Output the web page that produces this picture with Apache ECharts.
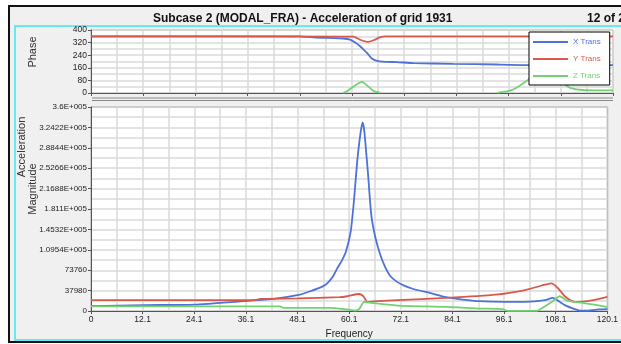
<!DOCTYPE html>
<html>
<head>
<meta charset="utf-8">
<script src="https://cdn.jsdelivr.net/npm/echarts@6/dist/echarts.min.js"></script>
<style>
html,body{margin:0;padding:0;background:#fff;}
#main{width:621px;height:344px;}
</style>
</head>
<body>
<div id="main"></div>
<script>
// tick labels as printed on the plot
var xTickLabels = ['0','12.1','24.1','36.1','48.1','60.1','72.1','84.1','96.1','108.1','120.1'];
var magTickLabels = ['0','37980','73760','1.0954E+005','1.4532E+005','1.811E+005','2.1688E+005','2.5266E+005','2.8844E+005','3.2422E+005','3.6E+005'];
var seriesNames = ['X Trans','Y Trans','Z Trans'];
var seriesColors = ['#4d72d8','#d9584c','#72d272'];

// magnitude
var xMagFreq = [0,12.5,24,35.5,42.4,48.6,51,53.9,55,56.2,57.3,58.4,59.3,60.4,61.2,61.9,62.7,63.2,63.6,64.4,65.2,66.2,67.3,68.4,69.6,71.1,72.7,75,78.8,82.6,86.5,90.2,96.4,101,105.6,107.4,108.6,110.2,112.5,113.7,115,116.5,118,120.1];
var xMagVal  = [8700,10500,11500,17500,21500,29000,35000,43700,49500,60000,75700,90000,105000,140000,198000,262700,315000,333000,315000,245000,169000,128000,99000,78000,62000,52000,45500,39000,32000,24500,20300,17500,16300,16300,19200,23200,18500,10500,3500,800,600,1500,3000,3500];

var yMagFreq = [0,37.8,39.4,48.1,57.8,59.6,62.3,63.3,64.3,66.6,71.2,82.6,94.1,101,105.6,107.1,108.6,110.2,112.5,115.5,120.1];
var yMagVal  = [19200,19200,21500,22400,24500,26200,30200,26700,16300,17500,19200,23200,29000,37200,46500,49000,40700,26200,16300,17500,25000];

var zMagFreq = [0,44,44.7,55.5,59.6,61.5,62.4,63.5,65,71.2,82.6,90.2,95.7,97,103.7,105.6,107.4,109,110.8,113.1,117,120.1];
var zMagVal  = [8400,8400,5800,5800,2800,1000,4000,16300,14500,9800,7500,4500,3500,300,500,8700,17500,26200,18500,15700,11500,7000];

// phase
var xPhaseFreq = [0,48,50,52,56,58,59.6,60.8,61.9,62.7,63.5,64.6,66.1,68,70.4,74.2,83.3,93.3,100.2,104,107,109,112,116,120.1];
var xPhaseVal  = [360,360,356,351,349,346,339,320,297,276,255,219,202,198,196,190,185,181,177,168,150,162,172,176,177];

var yPhaseFreq = [0,60.4,61.9,63.7,65,66.6,67.7,120.1];
var yPhaseVal  = [360,358,338,324,335,355,360,360];

var zPhaseFreq = [58,59,62.3,65,66.5,80,93.6,96,97.9,100.2,102,104.5,106.5,108.6,110.2,113.2,116,119.3,120.1];
var zPhaseVal  = [0,13,71,13,2,null,3,12,33,76,115,140,120,65,33,19,17,17,17];

function pairs(f, v){
	var out = [];
	for(var i=0;i<f.length;i++){
		out.push([f[i], v[i]===null ? '-' : v[i]]);
	}
	return out;
}

var font = "'Liberation Sans',Arial,sans-serif";
var gridLine = {show:true, lineStyle:{color:'#dadada', width:1.5}};

function xAxisOf(idx, showLabel){
	return {
		type:'value', gridIndex:idx, min:0, max:120.1, interval:12.01,
		axisLine:{show:true, onZero:false, lineStyle:{color:'#555', width:1}},
		axisTick:{show:true, length:3, lineStyle:{color:'#555'}},
		minorTick:{show:false, splitNumber:2},
		splitLine:gridLine, minorSplitLine:gridLine,
		axisLabel:{show:showLabel, margin:4, fontSize:8.5, color:'#222', fontFamily:font,
			formatter:function(v){ return xTickLabels[Math.round(v/12.01)]; }},
		name: showLabel ? 'Frequency' : '',
		nameLocation:'middle', nameGap:15,
		nameTextStyle:{fontSize:10, color:'#222', fontFamily:font}
	};
}

function lineSeries(name, idx, data, color){
	return {name:name, type:'line', xAxisIndex:idx, yAxisIndex:idx, symbol:'none',
		smooth:0.2, data:data, lineStyle:{width:1.8}, color:color};
}

var chart = echarts.init(document.getElementById('main'));
var option = {
	animation:false,
	backgroundColor:'#fff',
	title:[
		{text:'Subcase 2 (MODAL_FRA) - Acceleration of grid 1931', left:148, top:8,
			textStyle:{fontSize:12, fontWeight:'bold', color:'#111', fontFamily:font}},
		{text:'12 of 20', left:582, top:8,
			textStyle:{fontSize:12, fontWeight:'bold', color:'#111', fontFamily:font}}
	],
	legend:{
		data:[
			{name:'X Trans', textStyle:{color:seriesColors[0]}},
			{name:'Y Trans', textStyle:{color:seriesColors[1]}},
			{name:'Z Trans', textStyle:{color:seriesColors[2]}}
		],
		orient:'vertical', left:529, top:32,
		icon:'rect', itemWidth:35, itemHeight:2, itemGap:7,
		padding:[5,9,4,4],
		backgroundColor:'#fff', borderColor:'#000', borderWidth:1, borderRadius:0,
		textStyle:{fontSize:8, lineHeight:10, fontFamily:font}
	},
	grid:[
		{left:91, top:30, width:522, height:63, show:true, backgroundColor:'#fff', borderColor:'#999', borderWidth:1},
		{left:91, top:107, width:522, height:206, show:true, backgroundColor:'#fff', borderColor:'#555', borderWidth:1}
	],
	xAxis:[xAxisOf(0,false), xAxisOf(1,true)],
	yAxis:[
		{type:'value', gridIndex:0, min:0, max:400, interval:80,
			axisLine:{show:true, lineStyle:{color:'#555'}},
			axisTick:{show:true, length:3, lineStyle:{color:'#555'}},
			minorTick:{show:false, splitNumber:2},
			splitLine:gridLine, minorSplitLine:gridLine,
			axisLabel:{margin:4, fontSize:8.5, color:'#222', fontFamily:font}},
		{type:'value', gridIndex:1, min:0, max:360000, interval:36000,
			axisLine:{show:true, lineStyle:{color:'#555'}},
			axisTick:{show:true, length:3, lineStyle:{color:'#555'}},
			minorTick:{show:false, splitNumber:2},
			splitLine:gridLine, minorSplitLine:gridLine,
			axisLabel:{margin:4, fontSize:8, color:'#222', fontFamily:font,
				formatter:function(v){ return magTickLabels[Math.round(v/36000)]; }}}
	],
	graphic:[
		{type:'rect', z:-1, shape:{x:9, y:6, width:640, height:336}, style:{fill:'#f0f0f0', stroke:'#111', lineWidth:2}},
		{type:'rect', z:-1, shape:{x:15, y:26, width:640, height:314}, style:{fill:'#f0f0f0', stroke:'#3ee4f0', lineWidth:1.5}},
		{type:'line', z:5, shape:{x1:92, y1:98, x2:613, y2:98}, style:{stroke:'#888', lineWidth:1}},
		{type:'line', z:5, shape:{x1:92, y1:100.5, x2:613, y2:100.5}, style:{stroke:'#888', lineWidth:1}},
		{type:'text', z:5, x:33, y:52, rotation:Math.PI/2,
			style:{text:'Phase', fontSize:11, fontFamily:font, fill:'#333', textAlign:'center', textVerticalAlign:'middle'}},
		{type:'text', z:5, x:22, y:147, rotation:Math.PI/2,
			style:{text:'Acceleration', fontSize:11, fontFamily:font, fill:'#333', textAlign:'center', textVerticalAlign:'middle'}},
		{type:'text', z:5, x:33, y:189, rotation:Math.PI/2,
			style:{text:'Magnitude', fontSize:11, fontFamily:font, fill:'#333', textAlign:'center', textVerticalAlign:'middle'}}
	],
	series:[
		lineSeries('X Trans', 0, pairs(xPhaseFreq,xPhaseVal), seriesColors[0]),
		lineSeries('Y Trans', 0, pairs(yPhaseFreq,yPhaseVal), seriesColors[1]),
		lineSeries('Z Trans', 0, pairs(zPhaseFreq,zPhaseVal), seriesColors[2]),
		lineSeries('X Trans', 1, pairs(xMagFreq,xMagVal), seriesColors[0]),
		lineSeries('Y Trans', 1, pairs(yMagFreq,yMagVal), seriesColors[1]),
		lineSeries('Z Trans', 1, pairs(zMagFreq,zMagVal), seriesColors[2])
	]
};
chart.setOption(option);
</script>
</body>
</html>
